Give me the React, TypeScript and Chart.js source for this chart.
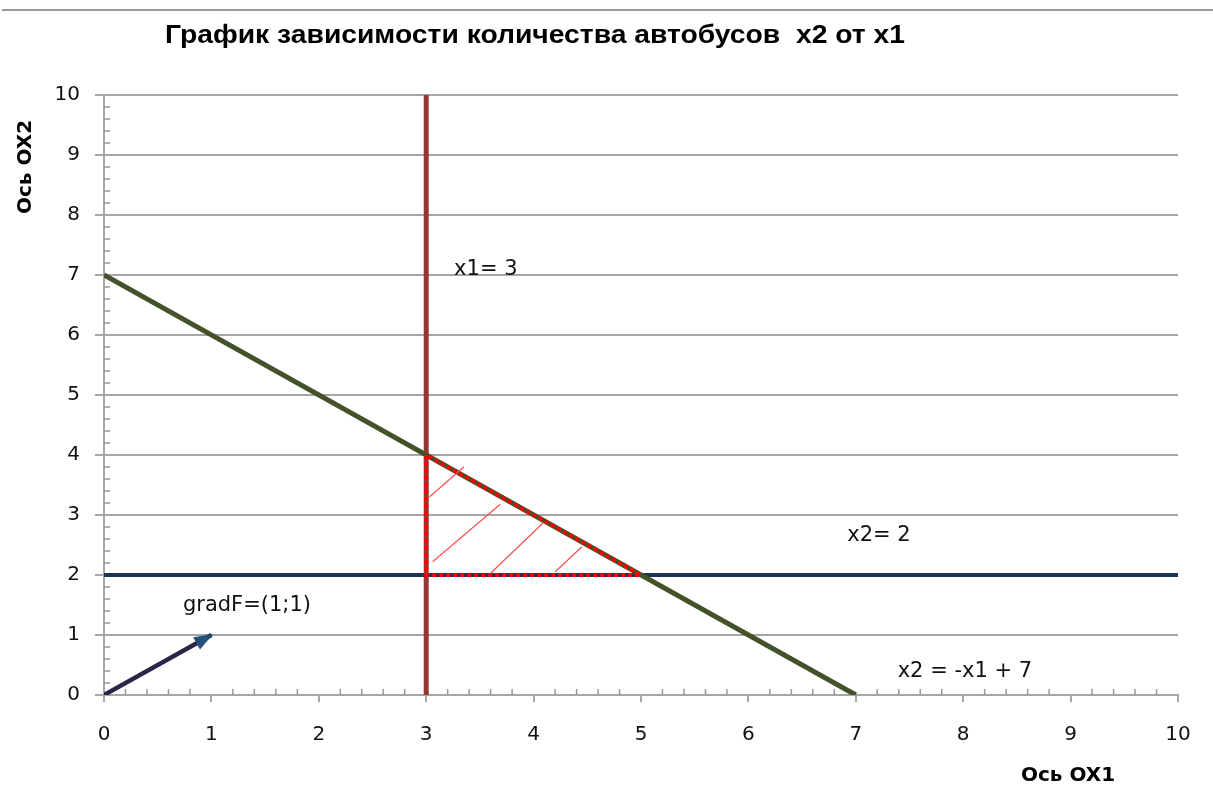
import React, { useEffect, useRef } from "react";
import { Chart, registerables } from "chart.js";

Chart.register(...registerables);

// ---------- data ----------
const TITLE = "График зависимости количества автобусов  x2 от x1";
const X_AXIS_TITLE = "Ось OX1";
const Y_AXIS_TITLE = "Ось OX2";
const X_MIN = 0;
const X_MAX = 10;
const Y_MIN = 0;
const Y_MAX = 10;
const MAJOR_STEP = 1;
const MINOR_STEP = 0.2;

const lineX1 = [{ x: 3, y: 0 }, { x: 3, y: 10 }];
const lineConstraint = [{ x: 0, y: 7 }, { x: 7, y: 0 }];
const lineX2 = [{ x: 0, y: 2 }, { x: 10, y: 2 }];
const feasibleRegion = [{ x: 3, y: 4 }, { x: 3, y: 2 }, { x: 5, y: 2 }, { x: 3, y: 4 }];
const hatch1 = [{ x: 3.03, y: 3.3 }, { x: 3.35, y: 3.8 }];
const hatch2 = [{ x: 3.06, y: 2.22 }, { x: 3.69, y: 3.18 }];
const hatch3 = [{ x: 3.6, y: 2.03 }, { x: 4.09, y: 2.87 }];
const hatch4 = [{ x: 4.2, y: 2.05 }, { x: 4.45, y: 2.47 }];
const gradientVector = [{ x: 0, y: 0 }, { x: 1, y: 1 }];

const annotationTexts = ["x1= 3", "gradF=(1;1)", "x2= 2", "x2 = -x1 + 7"];
const annotationX = [3.26, 0.735, 6.92, 7.39];
const annotationY = [7.0, 1.4, 2.57, 0.3];

// ---------- styles ----------
const GRID_COLOR = "#A6A6A6";
const TEXT_COLOR = "#111111";

const decorPlugin = {
  id: "decor",
  beforeDatasetsDraw(chart: any) {
    const { ctx, scales } = chart;
    const xs = scales.x;
    const ys = scales.y;
    ctx.save();
    ctx.strokeStyle = "#999999";
    ctx.lineWidth = 1.5;
    const per = Math.round(MAJOR_STEP / MINOR_STEP);
    const n = Math.round((X_MAX - X_MIN) / MINOR_STEP);
    for (let i = 0; i <= n; i++) {
      if (i % per === 0) continue;
      const px = xs.getPixelForValue(X_MIN + i * MINOR_STEP);
      ctx.beginPath();
      ctx.moveTo(px, ys.bottom);
      ctx.lineTo(px, ys.bottom - 6);
      ctx.stroke();
    }
    const m = Math.round((Y_MAX - Y_MIN) / MINOR_STEP);
    for (let i = 0; i <= m; i++) {
      if (i % per === 0) continue;
      const py = ys.getPixelForValue(Y_MIN + i * MINOR_STEP);
      ctx.beginPath();
      ctx.moveTo(xs.left, py);
      ctx.lineTo(xs.left + 6, py);
      ctx.stroke();
    }
    ctx.restore();
  },
  afterDatasetsDraw(chart: any) {
    const { ctx, scales } = chart;
    const xs = scales.x;
    const ys = scales.y;
    const x0 = xs.getPixelForValue(gradientVector[0].x);
    const y0 = ys.getPixelForValue(gradientVector[0].y);
    const x1 = xs.getPixelForValue(gradientVector[1].x);
    const y1 = ys.getPixelForValue(gradientVector[1].y);
    const ang = Math.atan2(y1 - y0, x1 - x0);
    const len = 17;
    const hw = 7;
    ctx.save();
    ctx.fillStyle = "#24507C";
    ctx.beginPath();
    ctx.moveTo(x1 + 2 * Math.cos(ang), y1 + 2 * Math.sin(ang));
    const bx = x1 - len * Math.cos(ang);
    const by = y1 - len * Math.sin(ang);
    ctx.lineTo(bx + hw * Math.sin(ang), by - hw * Math.cos(ang));
    ctx.lineTo(bx - hw * Math.sin(ang), by + hw * Math.cos(ang));
    ctx.closePath();
    ctx.fill();
    ctx.restore();
  },
  afterDraw(chart: any) {
    const { ctx, scales, width } = chart;
    const xs = scales.x;
    const ys = scales.y;
    ctx.save();
    ctx.strokeStyle = "#9A9A9A";
    ctx.lineWidth = 2;
    ctx.beginPath();
    ctx.moveTo(2, 10);
    ctx.lineTo(width, 10);
    ctx.stroke();

    ctx.fillStyle = "#000";
    ctx.font = 'bold 26px "Liberation Sans"';
    ctx.textBaseline = "alphabetic";
    ctx.textAlign = "left";
    const tw = ctx.measureText(TITLE).width;
    const target = 740;
    ctx.save();
    ctx.translate(165, 43);
    ctx.scale(target / tw, 1);
    ctx.fillText(TITLE, 0, 0);
    ctx.restore();

    ctx.font = 'bold 20px "DejaVu Sans"';
    ctx.textAlign = "center";
    ctx.textBaseline = "middle";
    ctx.fillText(X_AXIS_TITLE, 1068, 776);
    ctx.save();
    ctx.translate(26, 167);
    ctx.rotate(-Math.PI / 2);
    ctx.fillText(Y_AXIS_TITLE, 0, 0);
    ctx.restore();

    ctx.font = '21px "DejaVu Sans"';
    ctx.fillStyle = TEXT_COLOR;
    ctx.textAlign = "left";
    ctx.textBaseline = "alphabetic";
    for (let i = 0; i < annotationTexts.length; i++) {
      ctx.fillText(
        annotationTexts[i],
        xs.getPixelForValue(annotationX[i]),
        ys.getPixelForValue(annotationY[i])
      );
    }
    ctx.restore();
  },
};

function lineDs(data: any[], color: string, width: number, order: number, extra: any = {}) {
  return {
    data,
    borderColor: color,
    backgroundColor: color,
    borderWidth: width,
    showLine: true,
    pointRadius: 0,
    pointHoverRadius: 0,
    fill: false,
    tension: 0,
    order,
    ...extra,
  };
}

export default function App() {
  const ref = useRef<HTMLCanvasElement | null>(null);
  useEffect(() => {
    if (!ref.current) return;
    const chart = new Chart(ref.current, {
      type: "scatter",
      data: {
        datasets: [
          lineDs(feasibleRegion, "#FF0000", 4, 1, { borderDash: [4, 3] }),
          lineDs(hatch1, "#FF5050", 1.2, 2),
          lineDs(hatch2, "#FF5050", 1.2, 2),
          lineDs(hatch3, "#FF5050", 1.2, 2),
          lineDs(hatch4, "#FF5050", 1.2, 2),
          lineDs(lineConstraint, "#43522A", 5, 3),
          lineDs(lineX1, "#943634", 5, 4),
          lineDs(lineX2, "#1B3457", 4, 5),
          lineDs(gradientVector, "#2D2448", 4.5, 6),
        ] as any,
      },
      options: {
        responsive: false,
        animation: false,
        events: [],
        layout: { padding: { left: 44, right: 35, top: 95, bottom: 53 } },
        plugins: {
          legend: { display: false },
          tooltip: { enabled: false },
          title: { display: false },
        },
        scales: {
          x: {
            type: "linear",
            min: X_MIN,
            max: X_MAX,
            afterFit: (s: any) => {
              s.height = 60;
            },
            ticks: {
              stepSize: MAJOR_STEP,
              padding: 21,
              color: TEXT_COLOR,
              font: { family: "DejaVu Sans", size: 20 },
              maxRotation: 0,
              autoSkip: false,
            },
            grid: {
              drawOnChartArea: false,
              color: GRID_COLOR,
              lineWidth: 2,
              tickLength: 7,
            },
            border: { display: true, color: GRID_COLOR, width: 2 },
          },
          y: {
            type: "linear",
            min: Y_MIN,
            max: Y_MAX,
            afterFit: (s: any) => {
              s.width = 60;
            },
            ticks: {
              stepSize: MAJOR_STEP,
              padding: 15,
              color: TEXT_COLOR,
              font: { family: "DejaVu Sans", size: 20 },
            },
            grid: {
              color: GRID_COLOR,
              lineWidth: 2,
              tickLength: 9,
            },
            border: { display: true, color: GRID_COLOR, width: 2 },
          },
        },
      } as any,
      plugins: [decorPlugin],
    });
    return () => chart.destroy();
  }, []);

  return (
    <div style={{ position: "absolute", left: 0, top: 0, width: 1213, height: 808, background: "#fff" }}>
      <canvas ref={ref} width={1213} height={808} style={{ display: "block" }} />
    </div>
  );
}
